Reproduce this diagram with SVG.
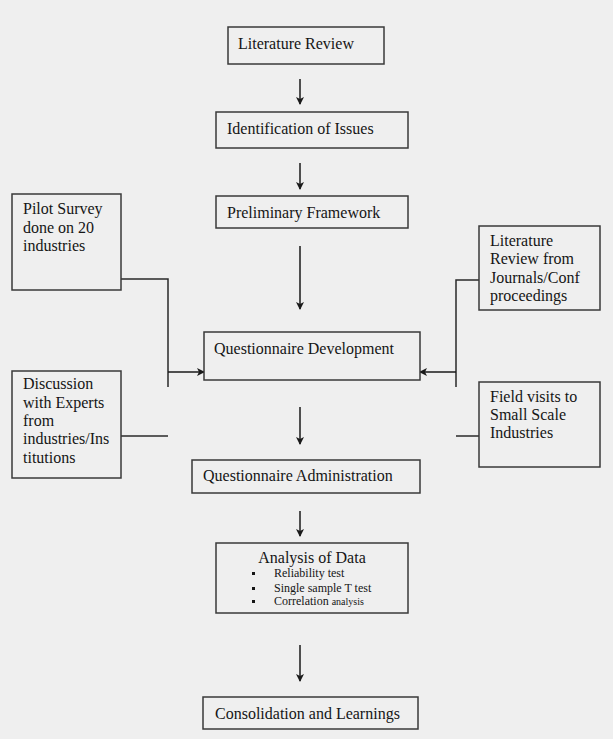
<svg xmlns="http://www.w3.org/2000/svg" width="613" height="739" viewBox="0 0 613 739">
<defs>
<marker id="ah" markerWidth="8" markerHeight="8" refX="7" refY="4" orient="auto" markerUnits="userSpaceOnUse">
<path d="M0,0 L8,4 L0,8 L2,4 Z" fill="#1a1a1a"/>
</marker>
</defs>
<style>
.bx{fill:#efefef;stroke:#3a3a3a;stroke-width:1.5}
.t{font-family:"Liberation Serif","Times New Roman",serif;font-size:16px;fill:#151515}
.s{font-family:"Liberation Serif","Times New Roman",serif;font-size:12px;fill:#151515}
.c{fill:none;stroke:#2a2a2a;stroke-width:1.5}
.a{fill:none;stroke:#1a1a1a;stroke-width:1.5;marker-end:url(#ah)}
</style>
<rect width="613" height="739" fill="#efefef"/>
<g id="connectors">
<line class="a" x1="300" y1="79" x2="300" y2="104"/>
<line class="a" x1="300" y1="163" x2="300" y2="189"/>
<line class="a" x1="300" y1="246" x2="300" y2="309"/>
<polyline class="c" points="121,279 168,279 168,387"/>
<line class="c" x1="121" y1="436" x2="168" y2="436"/>
<line class="a" x1="168" y1="372" x2="204" y2="372"/>
<polyline class="c" points="479,280 456,280 456,387"/>
<line class="c" x1="479" y1="436" x2="456" y2="436"/>
<line class="a" x1="456" y1="372" x2="420" y2="372"/>
<line class="a" x1="300" y1="407" x2="300" y2="444"/>
<line class="a" x1="300" y1="511" x2="300" y2="536"/>
<line class="a" x1="300" y1="645" x2="300" y2="681"/>
</g>
<g id="literature-review">
<rect class="bx" x="228" y="27" width="156" height="37"/>
<text class="t" x="238" y="49">Literature Review</text>
</g>
<g id="identification">
<rect class="bx" x="216" y="112" width="192" height="36"/>
<text class="t" x="227" y="134">Identification of Issues</text>
</g>
<g id="preliminary">
<rect class="bx" x="216" y="196" width="192" height="32"/>
<text class="t" x="227" y="218">Preliminary Framework</text>
</g>
<g id="pilot">
<rect class="bx" x="12" y="194" width="109" height="96"/>
<text class="t" x="23" y="214">Pilot Survey</text>
<text class="t" x="23" y="233">done on 20</text>
<text class="t" x="23" y="251">industries</text>
</g>
<g id="discussion">
<rect class="bx" x="12" y="371" width="109" height="107"/>
<text class="t" x="23" y="389">Discussion</text>
<text class="t" x="23" y="408">with Experts</text>
<text class="t" x="23" y="426">from</text>
<text class="t" x="23" y="444">industries/Ins</text>
<text class="t" x="23" y="463">titutions</text>
</g>
<g id="lit-journals">
<rect class="bx" x="479" y="226" width="121" height="84"/>
<text class="t" x="490" y="246">Literature</text>
<text class="t" x="490" y="264">Review from</text>
<text class="t" x="490" y="283">Journals/Conf</text>
<text class="t" x="490" y="301">proceedings</text>
</g>
<g id="field-visits">
<rect class="bx" x="479" y="382" width="121" height="85"/>
<text class="t" x="490" y="402">Field visits to</text>
<text class="t" x="490" y="420">Small Scale</text>
<text class="t" x="490" y="438">Industries</text>
</g>
<g id="q-development">
<rect class="bx" x="204" y="332" width="216" height="48"/>
<text class="t" x="214" y="354">Questionnaire Development</text>
</g>
<g id="q-administration">
<rect class="bx" x="192" y="460" width="228" height="33"/>
<text class="t" x="203" y="481">Questionnaire Administration</text>
</g>
<g id="analysis">
<rect class="bx" x="216" y="543" width="192" height="70"/>
<text class="t" x="312" y="563" text-anchor="middle">Analysis of Data</text>
<rect x="252" y="572" width="3" height="3" fill="#151515"/>
<rect x="252" y="587" width="3" height="3" fill="#151515"/>
<rect x="252" y="600" width="3" height="3" fill="#151515"/>
<text class="s" x="274" y="577">Reliability test</text>
<text class="s" x="274" y="592">Single sample T test</text>
<text class="s" x="274" y="605">Correlation <tspan font-size="10">analysis</tspan></text>
</g>
<g id="consolidation">
<rect class="bx" x="203" y="697" width="215" height="32"/>
<text class="t" x="215" y="719">Consolidation and Learnings</text>
</g>
</svg>
